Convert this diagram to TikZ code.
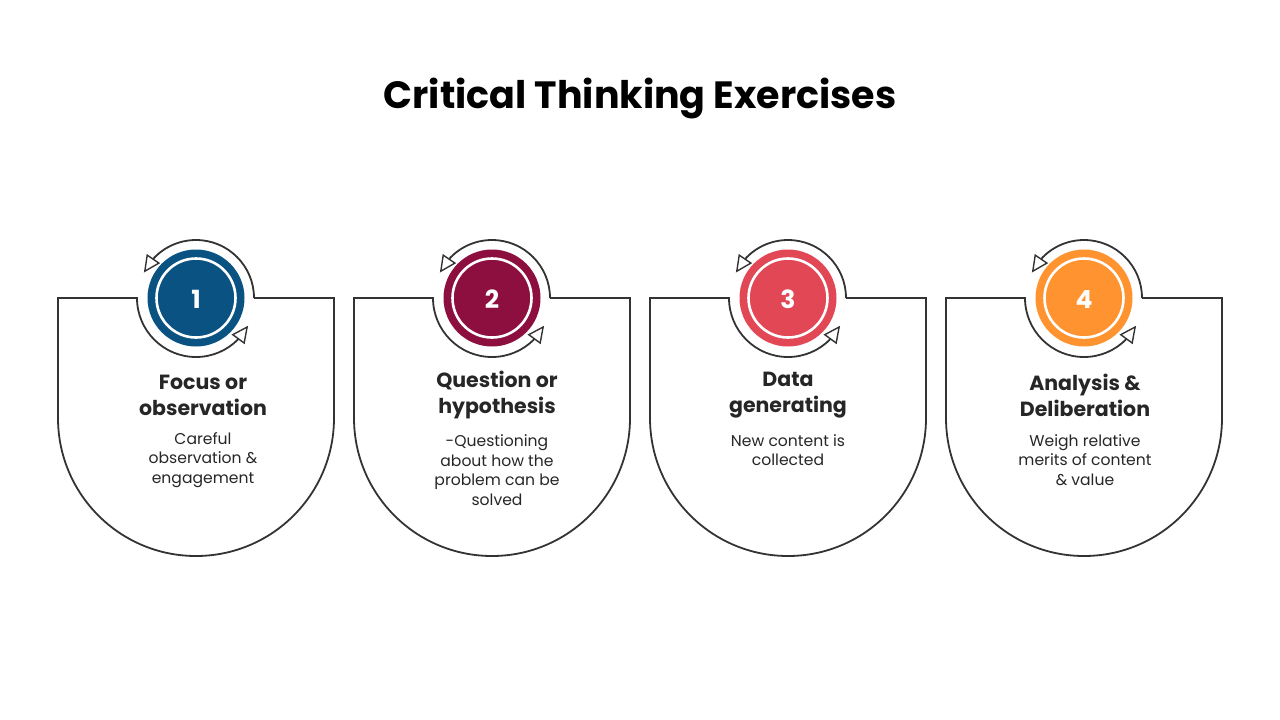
\documentclass[tikz,border=0pt]{standalone}
\usepackage{fontspec}
\setmainfont{Poppins}
\usetikzlibrary{arrows.meta,bending}
\definecolor{cA}{HTML}{0A5282}
\definecolor{cB}{HTML}{8C0F3F}
\definecolor{cC}{HTML}{E24756}
\definecolor{cD}{HTML}{FF9330}
\definecolor{ink}{HTML}{333333}
\definecolor{txt}{HTML}{262626}
\tikzset{
  outline/.style={draw=ink, line width=1.8pt},
  tip/.style={-{Triangle[length=17pt,width=16pt,fill=white,line width=1.4pt,flex]}},
  head/.style={align=center, text=txt, font=\fontsize{20.5}{26}\selectfont\bfseries, inner sep=0pt},
  body/.style={align=center, text=txt, font=\fontsize{15.6}{19.5}\selectfont, inner sep=0pt},
  num/.style={text=white, font=\fontsize{25}{27}\selectfont\bfseries},
}
\begin{document}
\begin{tikzpicture}[x=1pt,y=-1pt]
\useasboundingbox (0,0) rectangle (1280,720);
\node[font=\fontsize{38}{44}\selectfont\bfseries, text=black] (title) at (640,99) {Critical Thinking Exercises};
\foreach \i/\cx/\col/\n in {1/196/cA/1, 2/492/cB/2, 3/788/cC/3, 4/1084/cD/4}{
  \draw[outline, tip] (\cx+58,298) -- (\cx+138,298) -- (\cx+138,418)
     arc[start angle=0, end angle=180, radius=138] -- (\cx-138,298) -- (\cx-59,298)
     arc[start angle=180, end angle=28, radius=59];
  \draw[outline, tip] (\cx+58,298) arc[start angle=0, end angle=-154, radius=58];
  \fill[\col] (\cx,298) circle[radius=48.5];
  \draw[white, line width=2.6pt] (\cx,298) circle[radius=39.5];
  \node[num] (n\i) at (\cx,299) {\n};
}
\node[head] (h1) at (203,395) {Focus or\\observation};
\node[body] (b1) at (203,460) {Careful\\observation \&\\engagement};
\node[head] (h2) at (497,395) {Question or\\hypothesis};
\node[body] (b2) at (497,470) {-Questioning\\about how the\\problem can be\\solved};
\node[head] (h3) at (788,395) {Data\\generating};
\node[body] (b3) at (788,450) {New content is\\collected};
\node[head] (h4) at (1085,395) {Analysis \&\\Deliberation};
\node[body] (b4) at (1085,460) {Weigh relative\\merits of content\\\& value};
\end{tikzpicture}
\end{document}
